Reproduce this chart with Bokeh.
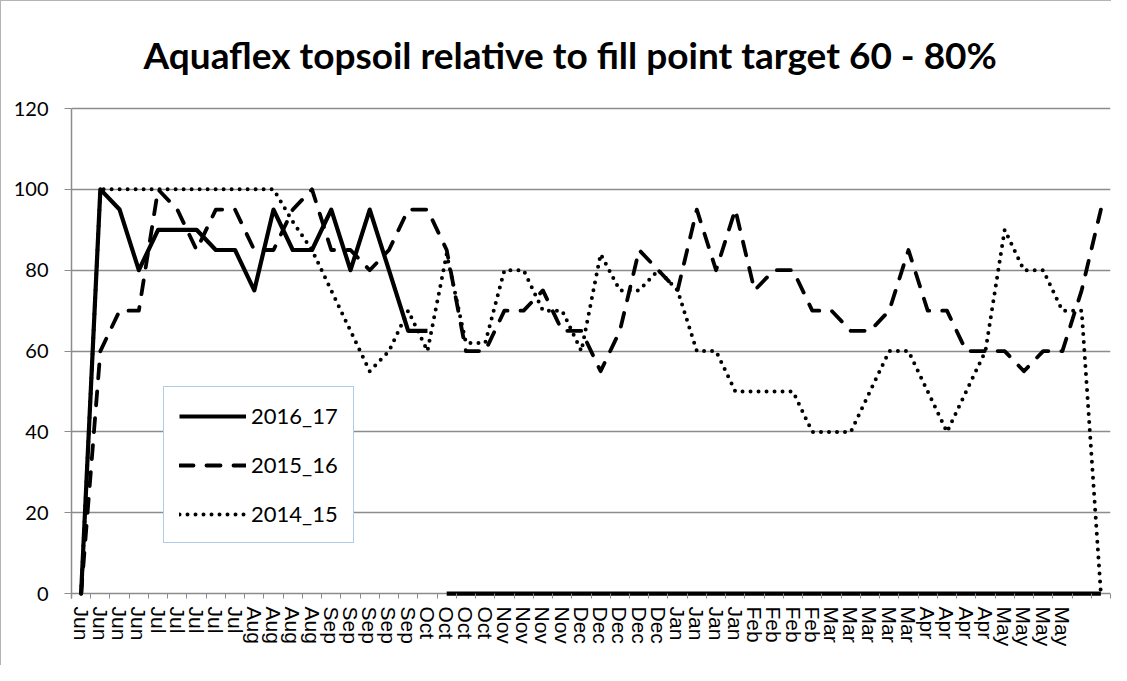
from bokeh.plotting import figure
from bokeh.models import Range1d, FixedTicker, Legend, LegendItem, ColumnDataSource, Label
from bokeh.embed import file_html
from bokeh.resources import INLINE

# ---- data -------------------------------------------------------------
weeks = ["Jun", "Jun", "Jun", "Jun",
         "Jul", "Jul", "Jul", "Jul", "Jul",
         "Aug", "Aug", "Aug", "Aug",
         "Sep", "Sep", "Sep", "Sep", "Sep",
         "Oct", "Oct", "Oct", "Oct",
         "Nov", "Nov", "Nov", "Nov",
         "Dec", "Dec", "Dec", "Dec", "Dec",
         "Jan", "Jan", "Jan", "Jan",
         "Feb", "Feb", "Feb", "Feb",
         "Mar", "Mar", "Mar", "Mar", "Mar",
         "Apr", "Apr", "Apr", "Apr",
         "May", "May", "May", "May",
         "", ""]

s2016_17 = [0, 100, 95, 80, 90, 90, 90, 85, 85, 75, 95, 85, 85, 95, 80, 95, 80, 65, 65,
            0, 0, 0, 0, 0, 0, 0, 0, 0, 0, 0, 0, 0, 0, 0, 0, 0, 0, 0, 0, 0, 0, 0, 0, 0,
            0, 0, 0, 0, 0, 0, 0, 0, 0, 0]
recorded_2016_17 = 19   # weeks already measured in 2016_17

s2015_16 = [0, 60, 70, 70, 100, 95, 85, 95, 95, 85, 85, 95, 100, 85, 85, 80, 85, 95, 95,
            85, 60, 60, 70, 70, 75, 65, 65, 55, 65, 85, 80, 75, 95, 80, 95, 75, 80, 80,
            70, 70, 65, 65, 70, 85, 70, 70, 60, 60, 60, 55, 60, 60, 75, 95]

s2014_15 = [0, 100, 100, 100, 100, 100, 100, 100, 100, 100, 100, 92, 85, 75, 65, 55, 60, 70, 60,
            84, 62, 62, 80, 80, 70, 70, 60, 84, 75, 75, 80, 75, 60, 60, 50, 50, 50, 50,
            40, 40, 40, 50, 60, 60, 50, 40, 50, 60, 90, 80, 80, 70, 70, 0]

y_ticks = [0, 20, 40, 60, 80, 100, 120]

title_text = "Aquaflex topsoil relative to fill point target 60 - 80%"

# ---- layout constants ---------------------------------------------------
W, H = 1111, 665
border_bottom = 68
y_lo, y_axis_top = -1.2, 120
px_per_unit = 490 / (y_axis_top - y_lo)          # value-axis scale (px per %)
frame_h = H - border_bottom
y_hi = y_lo + frame_h / px_per_unit              # frame extends up to hold the title

# ---- figure -----------------------------------------------------------
x = list(range(len(weeks)))
grey = "#8c8c8c"

p = figure(width=W, height=H, output_backend="svg", toolbar_location=None,
           x_range=Range1d(-0.5, len(weeks) - 0.5), y_range=Range1d(y_lo, y_hi),
           min_border_left=70, min_border_right=2, min_border_top=0,
           min_border_bottom=border_bottom)
p.outline_line_color = None
p.background_fill_color = "white"
p.border_fill_color = "white"
p.styles = {"border-left": "1px solid #b4b4b4", "border-top": "1px solid #b4b4b4"}

# chart title, placed in screen units relative to the plot frame
title = Label(x=72, y=544, x_units="screen", y_units="screen", text=title_text,
              text_font="Lato", text_font_style="bold", text_font_size="37px",
              text_color="black", text_align="left", text_baseline="alphabetic")
p.add_layout(title)

# x axis: labels at category centres, tick marks at category boundaries
xa = p.xaxis[0]
xa.ticker = FixedTicker(ticks=x, minor_ticks=[i - 0.5 for i in range(len(weeks) + 1)])
xa.major_label_overrides = {i: lab for i, lab in enumerate(weeks)}
xa.major_label_orientation = "vertical"
xa.major_label_text_font = "Liberation Sans"
xa.major_label_text_font_size = "21px"
xa.major_label_text_color = "black"
xa.major_label_standoff = 8
xa.major_tick_out = 0
xa.major_tick_in = 0
xa.minor_tick_out = 0
xa.minor_tick_in = 5
xa.minor_tick_line_color = grey
xa.axis_line_color = None

ya = p.yaxis[0]
ya.ticker = FixedTicker(ticks=y_ticks)
ya.bounds = (y_lo, y_axis_top)
ya.minor_tick_line_color = None
ya.major_tick_out = 7
ya.major_tick_in = 0
ya.major_tick_line_color = grey
ya.axis_line_color = grey
ya.axis_line_width = 1.5
ya.major_label_text_font = "Lato"
ya.major_label_text_font_size = "20px"
ya.major_label_text_color = "black"
ya.major_label_standoff = 16

p.xgrid.grid_line_color = None
p.ygrid.grid_line_color = grey
p.ygrid.grid_line_width = 1.3

# ---- series -----------------------------------------------------------
src_a = ColumnDataSource(dict(x=x[:recorded_2016_17], y=s2016_17[:recorded_2016_17]))
src_b = ColumnDataSource(dict(x=x[recorded_2016_17:], y=s2016_17[recorded_2016_17:]))

r_dot = p.line(x, s2014_15, line_color="black", line_width=4, line_dash="0 8",
               line_cap="round", line_join="round")
r_dash = p.line(x, s2015_16, line_color="black", line_width=3.8, line_dash="14 13",
                line_cap="round", line_join="round")
r_solid = p.line("x", "y", source=src_a, line_color="black", line_width=4.2,
                 line_join="round")
r_zero = p.line("x", "y", source=src_b, line_color="black", line_width=4.2, line_join="round")

legend = Legend(items=[LegendItem(label="2016_17", renderers=[r_solid]),
                       LegendItem(label="2015_16", renderers=[r_dash]),
                       LegendItem(label="2014_15", renderers=[r_dot])],
                location=(92, 55))
legend.label_text_font = "Lato"
legend.label_text_font_size = "22px"
legend.label_text_color = "black"
legend.glyph_width = 67
legend.glyph_height = 22
legend.label_height = 22
legend.label_standoff = 5
legend.spacing = 22
legend.padding = 15
legend.margin = 0
legend.border_line_color = "#5B9BD5"
legend.border_line_width = 1.2
legend.background_fill_color = "white"
legend.background_fill_alpha = 1
p.add_layout(legend, "center")

open("out.html", "w").write(file_html(p, INLINE))
